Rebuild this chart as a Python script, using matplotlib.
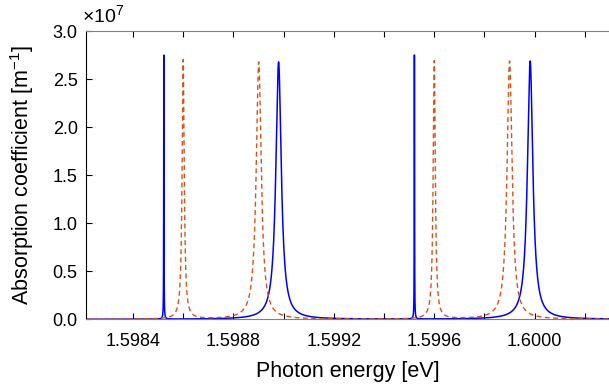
import numpy as np
import matplotlib
matplotlib.use("Agg")
import matplotlib.pyplot as plt
from matplotlib.ticker import FuncFormatter

plt.rcParams["font.family"] = ["Liberation Sans", "DejaVu Sans"]
plt.rcParams["mathtext.fontset"] = "custom"
plt.rcParams["mathtext.rm"] = "Liberation Sans"

# peak parameters (energy in eV, height in 1/m, half width in eV)
blue_centers = [1.598523, 1.598980, 1.599521, 1.599982]
blue_heights = [2.75e7, 2.68e7, 2.75e7, 2.69e7]
blue_widths = [6e-7, 1.3e-5, 6e-7, 1.3e-5]

orange_centers = [1.598600, 1.598901, 1.599600, 1.599900]
orange_heights = [2.70e7, 2.68e7, 2.69e7, 2.69e7]
orange_widths = [5e-6, 1.2e-5, 5e-6, 1.2e-5]

x_ticks = [1.5984, 1.5986, 1.5988, 1.5990, 1.5992, 1.5994, 1.5996, 1.5998, 1.6000, 1.6002]
x_labels = ["1.5984", "", "1.5988", "", "1.5992", "", "1.5996", "", "1.6000", ""]
y_ticks = [0, 0.5e7, 1.0e7, 1.5e7, 2.0e7, 2.5e7, 3.0e7]

energy = np.linspace(1.5982, 1.6004, 200001)


def spectrum(centers, heights, widths):
    # sum of lorentzian lines
    total = np.zeros_like(energy)
    for c, h, w in zip(centers, heights, widths):
        total += h / (1 + ((energy - c) / w) ** 2)
    return total


fig = plt.figure(figsize=(6.09, 3.86), dpi=100)
ax = fig.add_axes([86 / 609, (386 - 319.3) / 386, (610 - 86) / 609, 288 / 386])

ax.plot(energy, spectrum(blue_centers, blue_heights, blue_widths), color="#0000ff", lw=1.1)
ax.plot(energy, spectrum(orange_centers, orange_heights, orange_widths), color="#d95319",
        lw=1.0, ls=(0, (3.5, 2.5)))

ax.set_xlim(1.598213, 1.6003)
ax.set_ylim(0, 3.0e7)
ax.set_xticks(x_ticks)
ax.set_xticklabels(x_labels)
ax.set_yticks(y_ticks)
ax.yaxis.set_major_formatter(FuncFormatter(lambda v, p: f"{v / 1e7:.1f}"))

ax.tick_params(direction="in", length=4, width=0.8, labelsize=13, top=True,
               right=False, colors="black")
ax.tick_params(axis="x", pad=10)
ax.tick_params(axis="y", pad=6)
ax.spines["right"].set_visible(False)
ax.spines["top"].set_color("#808080")
ax.spines["bottom"].set_color("#808080")

# exponent label like matlab puts it
fig.text(82 / 609, 1 - 23 / 386, r"$\times$10$^{7}$", fontsize=14, ha="left", va="baseline")

ax.set_xlabel("Photon energy [eV]", fontsize=15.5, labelpad=8)
ax.set_ylabel("Absorption coefficient [m$^{-1}$]", fontsize=15.5, labelpad=12)

fig.savefig("out.png", dpi=100)
